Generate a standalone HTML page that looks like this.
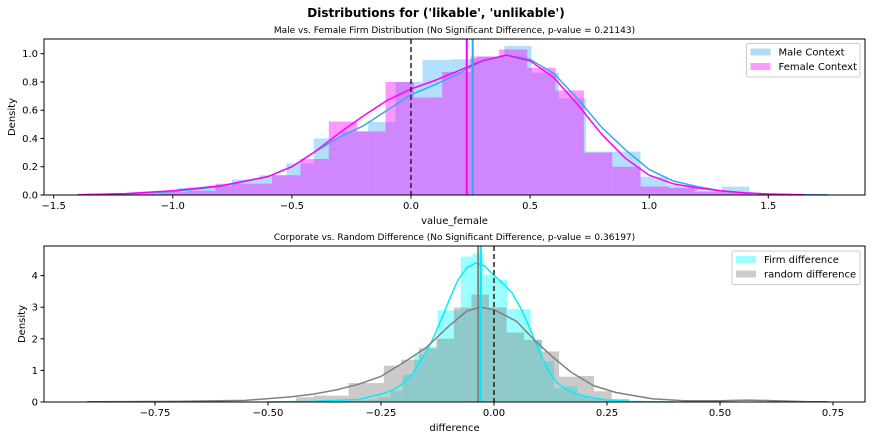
<!DOCTYPE html>
<html><head><meta charset="utf-8"><style>
html,body{margin:0;padding:0;background:#fff;}
svg text{font-family:"DejaVu Sans","Liberation Sans",sans-serif;fill:#000;}
</style></head><body>
<svg id="chart" width="872" height="440" viewBox="0 0 872 440" xmlns="http://www.w3.org/2000/svg">
<rect width="872" height="440" fill="#fff"/>
<text x="436" y="17" font-size="12" font-weight="bold" text-anchor="middle">Distributions for ('likable', 'unlikable')</text>
<g id="top"></g><g id="bot"></g>
</svg>
<script>
// ---- Top panel data ----
const maleBinStart = -1.437, maleBinWidth = 0.1143;
const maleHeights = [0.003,0.005,0.005,0.02,0.05,0.06,0.11,0.14,0.224,0.40,0.45,0.517,0.80,0.955,0.96,0.98,1.055,0.866,0.684,0.307,0.307,0.13,0.07,0.02,0.059];
const femaleBinStart = -1.416, femaleBinWidth = 0.119;
const femaleHeights = [0.003,0.005,0.01,0.02,0.03,0.08,0.08,0.14,0.255,0.52,0.45,0.80,0.69,0.87,0.98,1.03,0.90,0.74,0.30,0.20,0.06,0.05,0.03,0.02];
const kdeTopX = [-1.4,-1.2,-1.0,-0.8,-0.6,-0.5,-0.4,-0.3,-0.2,-0.1,0,0.1,0.2,0.3,0.4,0.5,0.6,0.7,0.8,0.9,1.0,1.1,1.2,1.3,1.4,1.5,1.6,1.75];
const kdeMale = [0.002,0.008,0.025,0.06,0.13,0.2,0.31,0.41,0.49,0.6,0.71,0.78,0.86,0.95,0.99,0.96,0.86,0.68,0.48,0.32,0.18,0.1,0.06,0.03,0.015,0.007,0.003,0.001];
const kdeFemaleX = [-1.4,-1.2,-1.0,-0.8,-0.6,-0.5,-0.4,-0.3,-0.2,-0.1,0,0.1,0.2,0.3,0.4,0.5,0.6,0.7,0.8,0.9,1.0,1.1,1.2,1.3,1.4,1.5,1.65];
const kdeFemale = [0.002,0.01,0.03,0.065,0.13,0.2,0.31,0.44,0.56,0.67,0.75,0.81,0.88,0.95,0.99,0.95,0.83,0.64,0.43,0.26,0.14,0.08,0.05,0.03,0.015,0.007,0.002];
const topMeans = [0.259, 0.234];
const topXTicks = [-1.5,-1.0,-0.5,0.0,0.5,1.0,1.5];
const topXTickLabels = ["\u22121.5","\u22121.0","\u22120.5","0.0","0.5","1.0","1.5"];
const topYTicks = [0,0.2,0.4,0.6,0.8,1.0];
const topYTickLabels = ["0.0","0.2","0.4","0.6","0.8","1.0"];
// ---- Bottom panel data ----
const firmBinStart = -0.3315, firmBinWidth = 0.0258;
const firmHeights = [0.03,0.05,0.08,0.15,0.34,0.86,1.5,1.76,2.9,2.9,4.6,4.7,4.03,3.87,2.94,2.94,1.97,1.29,0.44,0.5,0.18,0.1,0.03];
const randBinStart = -0.438, randBinWidth = 0.0388;
const randHeights = [0.15,0.2,0.2,0.6,0.6,1.15,1.34,1.7,2.0,2.99,3.4,2.99,2.2,1.97,1.6,0.8,0.82,0.34,0.1];
const kdeFirmX = [-0.5,-0.4,-0.3,-0.25,-0.22,-0.2,-0.18,-0.16,-0.14,-0.12,-0.1,-0.08,-0.06,-0.04,-0.02,0,0.02,0.04,0.06,0.08,0.1,0.12,0.14,0.16,0.18,0.2,0.25,0.3,0.4];
const kdeFirm = [0.0,0.02,0.08,0.25,0.4,0.6,0.9,1.35,1.85,2.5,3.2,3.85,4.25,4.4,4.3,4.0,3.75,3.45,2.95,2.3,1.6,1.0,0.6,0.4,0.27,0.18,0.06,0.02,0.0];
const kdeRandX = [-0.9,-0.7,-0.55,-0.45,-0.4,-0.35,-0.3,-0.25,-0.2,-0.15,-0.1,-0.06,-0.03,0,0.05,0.09,0.13,0.17,0.22,0.27,0.35,0.42,0.5,0.56,0.62,0.7,0.74];
const kdeRand = [0.01,0.02,0.05,0.16,0.25,0.38,0.56,0.81,1.25,1.72,2.4,2.88,3.0,2.92,2.55,1.95,1.42,0.95,0.52,0.3,0.1,0.04,0.04,0.06,0.04,0.01,0.005];
const botMeans = [-0.029, -0.035];
const botXTicks = [-0.75,-0.5,-0.25,0,0.25,0.5,0.75];
const botXTickLabels = ["\u22120.75","\u22120.50","\u22120.25","0.00","0.25","0.50","0.75"];
const botYTicks = [0,1,2,3,4];
const botYTickLabels = ["0","1","2","3","4"];

const NS = "http://www.w3.org/2000/svg";
function mk(parent, tag, attrs){ const e=document.createElementNS(NS,tag); for(const k in attrs) e.setAttribute(k,attrs[k]); parent.appendChild(e); return e; }

function panel(g, o){
  const X = v => o.x0 + v*o.kx, Y = v => o.y0 - v*o.ky;
  o.series.forEach(s=>{
    const sg = mk(g,'g',{});
    
    
    s.heights.forEach((h,i)=>{
      const a = s.start + i*s.width, b = a + s.width;
      const r = mk(sg,'rect',{x:X(a),y:Y(h),width:X(b)-X(a),height:Math.max(0,o.y0-Y(h)),fill:s.fill,'fill-opacity':s.op});
      
      
    });
  });
  o.kdes.forEach(k=>{
    const d = k.xs.map((x,i)=>(i?'L':'M')+X(x).toFixed(1)+','+Y(k.ys[i]).toFixed(1)).join(' ');
    const p = mk(g,'path',{d:d,fill:'none',stroke:k.color,'stroke-width':1.5,'stroke-linejoin':'round'});
    
    
  });
  o.means.forEach(m=>{
    const l = mk(g,'line',{x1:X(m.v),x2:X(m.v),y1:o.top,y2:o.y0,stroke:m.color,'stroke-width':2});
    
    
  });
  const z = mk(g,'line',{x1:X(0),x2:X(0),y1:o.top,y2:o.y0,stroke:'#222','stroke-width':1.5,'stroke-dasharray':'5,3'});
  
  
  const fr = mk(g,'rect',{x:o.left,y:o.top,width:o.right-o.left,height:o.y0-o.top,fill:'none',stroke:'#000','stroke-width':1});
  
  
  o.xt.forEach((t,i)=>{
    mk(g,'line',{x1:X(t),x2:X(t),y1:o.y0,y2:o.y0+3.5,stroke:'#000'});
    const tx = mk(g,'text',{x:X(t),y:o.y0+14,'font-size':10,'text-anchor':'middle'});
    tx.textContent = o.xl[i];
    
    
  });
  o.yt.forEach((t,i)=>{
    mk(g,'line',{x1:o.left-3.5,x2:o.left,y1:Y(t),y2:Y(t),stroke:'#000'});
    const tx = mk(g,'text',{x:o.left-6,y:Y(t)+3.5,'font-size':10,'text-anchor':'end'});
    tx.textContent = o.yl[i];
    
    
  });
  const tt = mk(g,'text',{x:(o.left+o.right)/2,y:o.top-6,'font-size':9,'text-anchor':'middle'});
  tt.textContent = o.title;
  
  
  const xl = mk(g,'text',{x:(o.left+o.right)/2,y:o.y0+29,'font-size':10,'text-anchor':'middle'});
  xl.textContent = o.xlabel;
  
  
  const yl = mk(g,'text',{x:0,y:0,'font-size':10,'text-anchor':'middle',transform:`translate(${o.ylx},${(o.top+o.y0)/2}) rotate(-90)`});
  yl.textContent = 'Density';
  
  
  const L = o.legend;
  const lg = mk(g,'g',{});
  
  
  mk(lg,'rect',{x:L.x,y:L.y,width:L.w,height:33.5,rx:2,fill:'#fff','fill-opacity':0.8,stroke:'#ccc'});
  L.items.forEach((it,i)=>{
    const e = mk(lg,'g',{});
    
    
    mk(e,'rect',{x:L.x+4,y:L.y+5+i*14.5,width:20,height:7,fill:it.c});
    const t = mk(e,'text',{x:L.x+32,y:L.y+12+i*14.5,'font-size':10});
    t.textContent = it.t;
  });
}

panel(document.getElementById('top'),{
  x0:411, kx:238.2, y0:195, ky:141.3, top:39, left:44, right:865, ylx:15,
  title:"Male vs. Female Firm Distribution (No Significant Difference, p-value = 0.21143)",
  xlabel:"value_female",
  series:[{name:'male-context',start:maleBinStart,width:maleBinWidth,heights:maleHeights,fill:'rgb(135,206,250)',op:0.65},
          {name:'female-context',start:femaleBinStart,width:femaleBinWidth,heights:femaleHeights,fill:'#ff00ff',op:0.4}],
  kdes:[{name:'male-context',xs:kdeTopX,ys:kdeMale,color:'#36a9ee'},{name:'female-context',xs:kdeFemaleX,ys:kdeFemale,color:'#ff00ff'}],
  means:[{name:'male-context',v:topMeans[0],color:'#36a9ee'},{name:'female-context',v:topMeans[1],color:'#ff00ff'}],
  xt:topXTicks, xl:topXTickLabels, yt:topYTicks, yl:topYTickLabels,
  legend:{x:746.5,y:43.5,w:113.5,items:[{t:'Male Context',c:'#b1dbf6'},{t:'Female Context',c:'#ff99ff'}]}
});
panel(document.getElementById('bot'),{
  x0:494, kx:452, y0:402, ky:31.6, top:246, left:44, right:865, ylx:25,
  title:"Corporate vs. Random Difference (No Significant Difference, p-value = 0.36197)",
  xlabel:"difference",
  series:[{name:'firm-difference',start:firmBinStart,width:firmBinWidth,heights:firmHeights,fill:'#00ffff',op:0.4},
          {name:'random-difference',start:randBinStart,width:randBinWidth,heights:randHeights,fill:'#808080',op:0.42}],
  kdes:[{name:'firm-difference',xs:kdeFirmX,ys:kdeFirm,color:'#00eeff'},{name:'random-difference',xs:kdeRandX,ys:kdeRand,color:'#808080'}],
  means:[{name:'random-difference',v:botMeans[1],color:'#808080'},{name:'firm-difference',v:botMeans[0],color:'#00eeff'}],
  xt:botXTicks, xl:botXTickLabels, yt:botYTicks, yl:botYTickLabels,
  legend:{x:732,y:251,w:128,items:[{t:'Firm difference',c:'#99ffff'},{t:'random difference',c:'#cccccc'}]}
});
</script>
</body></html>
